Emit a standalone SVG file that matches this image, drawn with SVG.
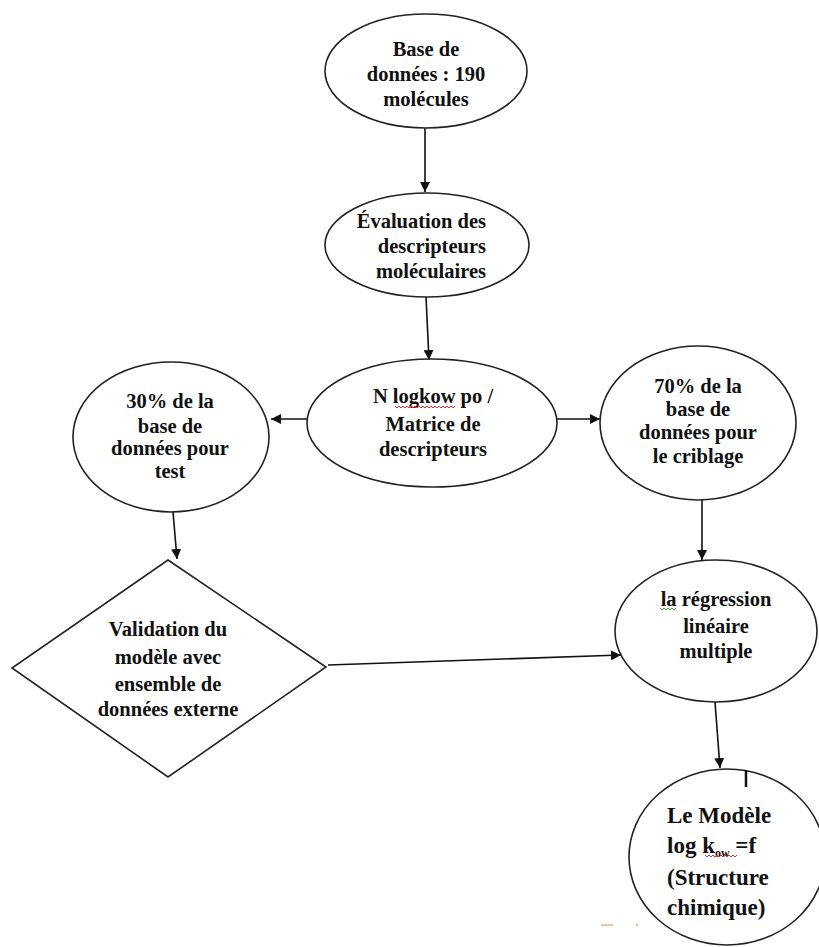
<svg xmlns="http://www.w3.org/2000/svg" width="819" height="947" viewBox="0 0 819 947">
<defs>
<marker id="ah" viewBox="0 0 10 10" refX="10" refY="5" markerWidth="10" markerHeight="10" markerUnits="userSpaceOnUse" orient="auto">
<path d="M0,0 L10,5 L0,10 z" fill="#111"/>
</marker>
</defs>
<style>
.shape{fill:#fff;stroke:#222;stroke-width:1.6}
.t{font-family:"Liberation Serif","Times New Roman",serif;font-weight:bold;font-size:20.5px;fill:#111;text-anchor:middle}
.big{font-size:23px;text-anchor:start}
.edge{stroke:#111;stroke-width:1.6;fill:none;marker-end:url(#ah)}
.sq{fill:none;stroke-width:1}
</style>
<rect width="819" height="947" fill="#fff"/>
<g id="connectors">
<line class="edge" x1="425" y1="128" x2="425" y2="192"/>
<line class="edge" x1="426" y1="297" x2="429" y2="360"/>
<line class="edge" x1="307" y1="419" x2="271" y2="419"/>
<line class="edge" x1="557" y1="419" x2="600" y2="419"/>
<line class="edge" x1="702" y1="500" x2="702" y2="560"/>
<line class="edge" x1="172" y1="500" x2="177" y2="559"/>
<line class="edge" x1="328" y1="665" x2="621" y2="655"/>
<line class="edge" x1="715" y1="702" x2="720" y2="768"/>
</g>
<g id="n1">
<ellipse class="shape" cx="426" cy="71" rx="101" ry="57"/>
<text class="t" x="426" y="56">Base de</text>
<text class="t" x="426" y="81">données : 190</text>
<text class="t" x="426" y="106">molécules</text>
</g>
<g id="n2">
<ellipse class="shape" cx="427" cy="245" rx="102" ry="52"/>
<text class="t" x="486" y="228" style="text-anchor:end">Évaluation des</text>
<text class="t" x="486" y="253" style="text-anchor:end">descripteurs</text>
<text class="t" x="486" y="278" style="text-anchor:end">moléculaires</text>
</g>
<g id="n3">
<ellipse class="shape" cx="432" cy="423" rx="125" ry="64"/>
<text class="t" x="433" y="403">N logkow po /</text>
<text class="t" x="433" y="431">Matrice de</text>
<text class="t" x="433" y="456">descripteurs</text>
<path class="sq" stroke="#e03030" d="M395,406 l2,2 l2,-2 l2,2 l2,-2 l2,2 l2,-2 l2,2 l2,-2 l2,2 l2,-2 l2,2 l2,-2 l2,2 l2,-2 l2,2 l2,-2 l2,2 l2,-2 l2,2 l2,-2 l2,2 l2,-2 l2,2 l2,-2 l2,2 l2,-2 l2,2 l2,-2 l2,2 l2,-2"/>
</g>
<g id="n4">
<ellipse class="shape" cx="171" cy="437" rx="98" ry="75"/>
<text class="t" x="170" y="408">30% de la</text>
<text class="t" x="170" y="433">base de</text>
<text class="t" x="170" y="455">données pour</text>
<text class="t" x="170" y="478">test</text>
</g>
<g id="n5">
<ellipse class="shape" cx="698" cy="423" rx="98" ry="77"/>
<text class="t" x="698" y="393">70% de la</text>
<text class="t" x="698" y="416">base de</text>
<text class="t" x="698" y="439">données pour</text>
<text class="t" x="698" y="463">le criblage</text>
</g>
<g id="n6">
<polygon class="shape" points="168,560 326,667 168,777 12,668"/>
<text class="t" x="168" y="636">Validation du</text>
<text class="t" x="168" y="664">modèle avec</text>
<text class="t" x="168" y="691">ensemble de</text>
<text class="t" x="168" y="716">données externe</text>
</g>
<g id="n7">
<ellipse class="shape" cx="716" cy="631" rx="101" ry="71"/>
<text class="t" x="716" y="606">la régression</text>
<text class="t" x="716" y="633">linéaire</text>
<text class="t" x="716" y="658">multiple</text>
<path class="sq" stroke="#3a9a3a" d="M660,608 l2,2 l2,-2 l2,2 l2,-2 l2,2 l2,-2 l2,2 l2,-2"/>
</g>
<g id="n8">
<ellipse class="shape" cx="727" cy="857" rx="98" ry="88"/>
<line x1="746" y1="770" x2="746" y2="787" stroke="#111" stroke-width="2.5"/>
<text class="t big" x="667" y="823">Le Modèle</text>
<text class="t big" x="667" y="853">log k<tspan font-size="12" dy="4">ow</tspan><tspan dy="-4"> =f</tspan></text>
<text class="t big" x="667" y="885">(Structure</text>
<text class="t big" x="667" y="915">chimique)</text>
<path class="sq" stroke="#e03030" d="M705,855 l2,2 l2,-2 l2,2 l2,-2 l2,2 l2,-2 l2,2 l2,-2 l2,2 l2,-2 l2,2 l2,-2 l2,2 l2,-2 l2,2 l2,-2"/>
</g>
<g id="marks">
<line x1="601" y1="925" x2="613" y2="925" stroke="#f0b070" stroke-width="1.5"/>
<rect x="636" y="924" width="2" height="2" fill="#f0b070"/>
</g>
</svg>
